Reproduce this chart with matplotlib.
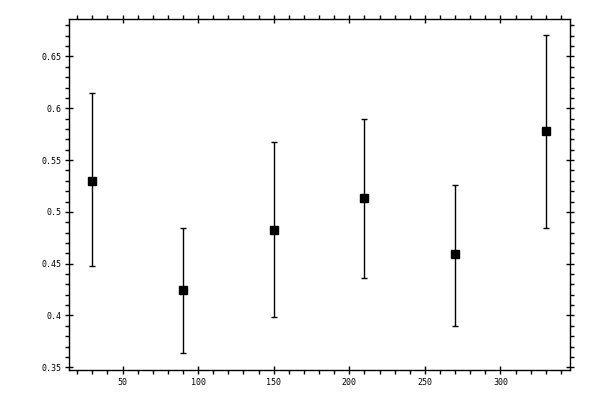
import matplotlib
matplotlib.use("Agg")
import matplotlib.pyplot as plt
from matplotlib.ticker import MultipleLocator, FormatStrFormatter

x_vals = [30, 90, 150, 210, 270, 330]
y_vals = [0.530, 0.425, 0.483, 0.513, 0.459, 0.578]
y_upper = [0.6145, 0.4848, 0.5671, 0.590, 0.5255, 0.6703]
y_lower = [0.4474, 0.364, 0.3987, 0.4365, 0.390, 0.4848]

err_lo = [y - lo for y, lo in zip(y_vals, y_lower)]
err_hi = [hi - y for y, hi in zip(y_vals, y_upper)]

fig = plt.figure(figsize=(6, 4), dpi=100)
ax = fig.add_axes([0.115, 0.074, 0.835, 0.878])

ax.errorbar(x_vals, y_vals, yerr=[err_lo, err_hi], fmt='s', color='black',
            ms=5.5, capsize=2.5, elinewidth=1.0, capthick=1.0)

ax.set_xlim(14.6, 346)
ax.set_ylim(0.347, 0.686)

ax.xaxis.set_major_locator(MultipleLocator(50))
ax.xaxis.set_minor_locator(MultipleLocator(10))
ax.yaxis.set_major_locator(MultipleLocator(0.05))
ax.yaxis.set_minor_locator(MultipleLocator(0.01))


def fmt_y(v, pos):
    s = "%.2f" % v
    if s.endswith("0"):
        s = s[:-1]
    return s


ax.yaxis.set_major_formatter(plt.FuncFormatter(fmt_y))
ax.xaxis.set_major_formatter(FormatStrFormatter('%d'))

for s in ax.spines.values():
    s.set_linewidth(1.0)

ax.tick_params(which='major', direction='inout', length=6, width=1.0,
               top=True, right=True, labelsize=6, pad=2.5)
ax.tick_params(which='minor', direction='out', length=2.6, width=1.0,
               top=True, right=True)
for lab in ax.get_xticklabels() + ax.get_yticklabels():
    lab.set_family('DejaVu Sans Mono')

fig.savefig("out.png", dpi=100)
